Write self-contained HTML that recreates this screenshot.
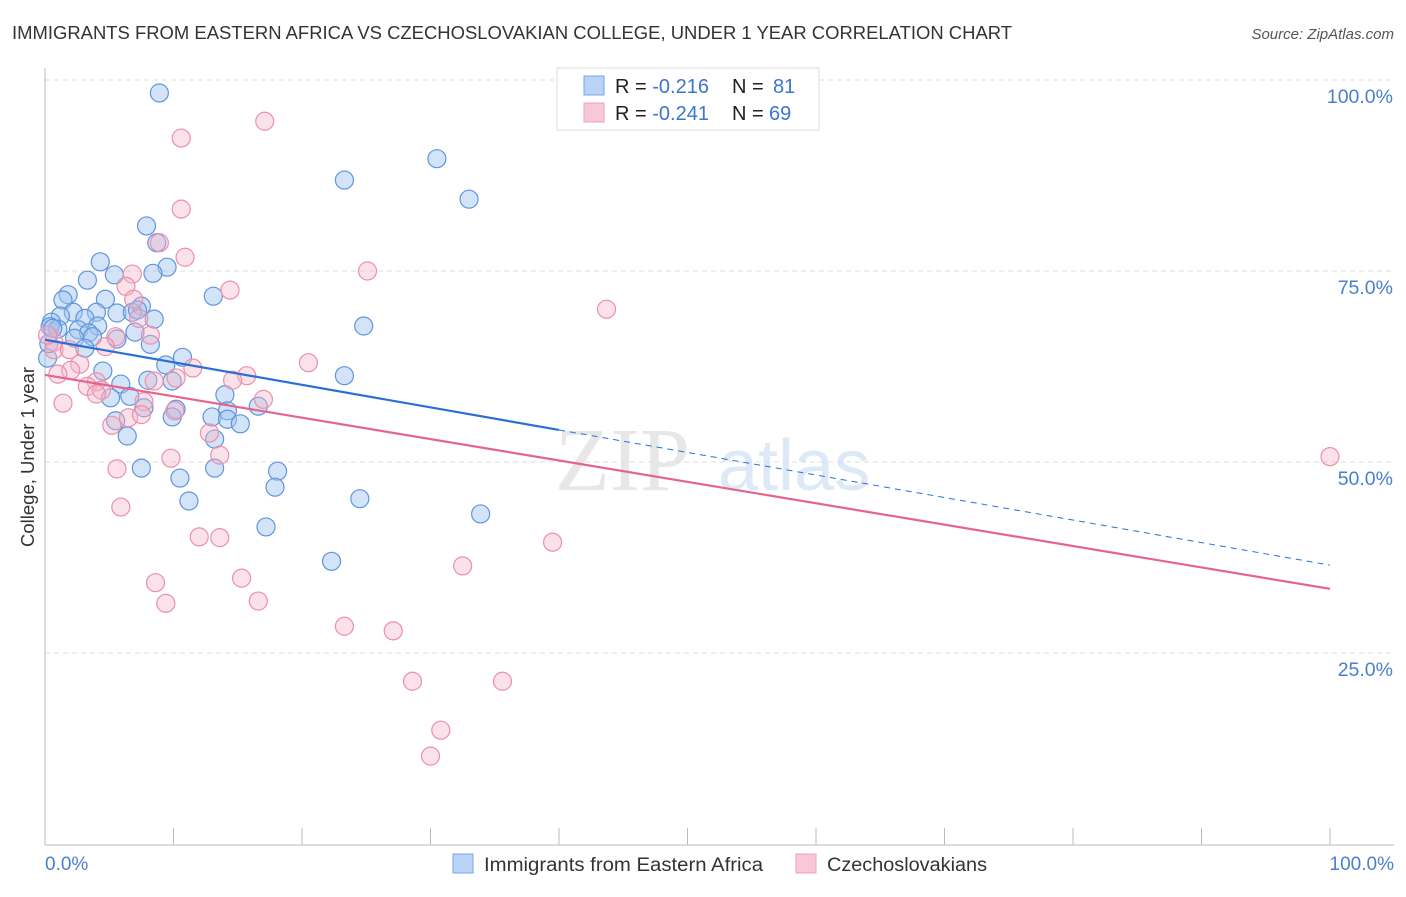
<!DOCTYPE html>
<html><head><meta charset="utf-8"><style>
body{margin:0;background:#fff;font-family:"Liberation Sans",sans-serif}
</style></head><body>
<svg width="1406" height="892" viewBox="0 0 1406 892" xmlns="http://www.w3.org/2000/svg">
<text x="12" y="39" font-size="18" fill="#333" textLength="1000" lengthAdjust="spacingAndGlyphs">IMMIGRANTS FROM EASTERN AFRICA VS CZECHOSLOVAKIAN COLLEGE, UNDER 1 YEAR CORRELATION CHART</text>
<text x="1394" y="39" font-size="15" fill="#555" font-style="italic" text-anchor="end">Source: ZipAtlas.com</text>
<g id="grid"></g>
<g><text x="555" y="490" font-size="90" fill="#e2e2e2" font-family="Liberation Serif" opacity="0.8">ZIP</text><text x="718" y="490" font-size="72" fill="#d0e0f3" opacity="0.7">atlas</text></g>
<line x1="45" y1="68" x2="45" y2="845" stroke="#bbb"/>
<line x1="45" y1="845" x2="1394" y2="845" stroke="#bbb"/>
<g id="ticks"></g>
<g id="pts"></g>
<g id="trends"></g>
<text x="34" y="457" font-size="18.5" fill="#333" text-anchor="middle" transform="rotate(-90 34 457)">College, Under 1 year</text>
<text x="45" y="870" font-size="19" fill="#4a7fd0">0.0%</text>
<text x="1394" y="870" font-size="19" fill="#4a7fd0" text-anchor="end">100.0%</text>
<g>
<rect x="557" y="68" width="262" height="62" fill="#fff" stroke="#ddd"/>
<rect x="584" y="76" width="20" height="19" fill="#b8d3f5" stroke="#7aa6e0"/>
<rect x="584" y="103" width="20" height="19" fill="#f9c8d6" stroke="#eca0b8"/>
<text x="615" y="93" font-size="20" fill="#222">R = <tspan fill="#3b75cc">-0.216</tspan><tspan x="732">N = </tspan><tspan fill="#3b75cc" x="773">81</tspan></text>
<text x="615" y="120" font-size="20" fill="#222">R = <tspan fill="#3b75cc">-0.241</tspan><tspan x="732">N = </tspan><tspan fill="#3b75cc" x="769">69</tspan></text>
</g>
<g>
<rect x="453" y="854" width="20" height="19" fill="#b8d3f5" stroke="#7aa6e0"/>
<text x="484" y="871" font-size="19" fill="#333" textLength="279" lengthAdjust="spacingAndGlyphs">Immigrants from Eastern Africa</text>
<rect x="796" y="854" width="20" height="19" fill="#f9c8d6" stroke="#eca0b8"/>
<text x="827" y="871" font-size="19" fill="#333" textLength="160" lengthAdjust="spacingAndGlyphs">Czechoslovakians</text>
</g>
</svg>
<script>
const yTicks=[25,50,75,100];
const yTickLabels=["25.0%","50.0%","75.0%","100.0%"];
const xTicks=[0,10,20,30,40,50,60,70,80,90,100];
const blueX=[8.9,30.5,23.3,33.0,7.9,8.7,4.3,9.5,8.4,5.4,3.3,13.1,1.8,1.4,4.7,7.5,2.2,4.0,5.6,6.8,7.2,8.5,3.1,1.2,0.5,0.4,1.0,4.1,2.6,3.4,7.0,24.8,2.3,3.7,5.6,8.2,3.1,0.2,10.7,9.4,4.5,23.3,8.0,5.9,9.9,14.0,6.6,5.1,16.6,7.7,10.2,14.2,13.0,9.9,14.2,15.2,5.5,6.4,13.2,7.5,13.2,18.1,10.5,17.9,24.5,11.2,33.9,17.2,22.3,0.3,0.6];
const blueY=[98.3,89.7,86.9,84.4,80.9,78.7,76.2,75.5,74.7,74.5,73.8,71.7,71.9,71.2,71.3,70.4,69.6,69.6,69.5,69.6,69.9,68.7,68.8,69.1,68.3,67.7,67.4,67.8,67.3,66.9,67.0,67.8,66.2,66.4,66.1,65.4,64.9,63.6,63.7,62.7,61.9,61.3,60.7,60.2,60.6,58.8,58.6,58.4,57.3,57.1,56.9,56.7,55.9,55.9,55.6,55.0,55.4,53.4,53.0,49.2,49.2,48.8,47.9,46.7,45.2,44.9,43.2,41.5,37.0,65.5,67.5];
const pinkX=[49.9,17.1,10.6,10.6,8.9,10.9,25.1,6.8,14.4,6.3,6.9,43.7,7.3,8.2,5.5,0.7,0.7,4.7,1.9,20.5,11.5,2.7,2.0,1.0,15.7,14.6,10.2,8.5,4.0,3.3,4.4,4.0,17.0,7.7,1.4,10.1,6.5,7.5,5.2,12.8,13.6,9.8,5.6,100,5.9,12.0,13.6,39.5,32.5,15.3,8.6,9.4,16.6,23.3,27.1,28.6,35.6,30.8,30.0,0.2];
const pinkY=[100,94.6,92.4,83.1,78.7,76.8,75.0,74.6,72.5,73.0,71.3,70.0,68.8,66.6,66.4,65.7,64.7,65.1,64.7,63.0,62.3,62.8,62.0,61.5,61.3,60.7,61.0,60.6,60.5,59.9,59.4,58.9,58.2,57.9,57.7,56.7,55.8,56.2,54.8,53.8,50.9,50.5,49.1,50.7,44.1,40.2,40.1,39.5,36.4,34.8,34.2,31.5,31.8,28.5,27.9,21.3,21.3,14.9,11.5,66.6];
const blueTrend=[66.0,36.5];
const pinkTrend=[61.4,33.4];
const NS="http://www.w3.org/2000/svg";
const X=v=>45+v*12.85, Y=v=>844-v*7.64;
function mk(tag,attrs,parent){const e=document.createElementNS(NS,tag);for(const k in attrs)e.setAttribute(k,attrs[k]);parent.appendChild(e);return e;}
const grid=document.getElementById('grid');
yTicks.forEach((t,i)=>{
 const l=mk('line',{x1:45,x2:1394,y1:Y(t),y2:Y(t),stroke:'#ddd','stroke-dasharray':'5,4'},grid);
 
 
 const tx=mk('text',{x:1393,y:Y(t)+23,'font-size':19.5,fill:'#4a7fd0','text-anchor':'end'},grid);
 tx.textContent=yTickLabels[i];
 
 
});
const ticks=document.getElementById('ticks');
xTicks.forEach(t=>{
 const l=mk('line',{x1:X(t),x2:X(t),y1:828,y2:845,stroke:'#bbb'},ticks);
 
 
});
const pts=document.getElementById('pts');
blueX.forEach((x,i)=>{
 const c=mk('circle',{cx:X(x),cy:Y(blueY[i]),r:9,fill:'rgba(160,195,240,0.45)',stroke:'#5f95dc','stroke-width':1.2},pts);
 
 
});
pinkX.forEach((x,i)=>{
 const c=mk('circle',{cx:X(x),cy:Y(pinkY[i]),r:9,fill:'rgba(245,180,200,0.4)',stroke:'#ec8fab','stroke-width':1.2},pts);
 
 
});
const tr=document.getElementById('trends');
const by=x=>blueTrend[0]+(blueTrend[1]-blueTrend[0])*x/100;
let l1=mk('line',{x1:X(0),y1:Y(by(0)),x2:X(40),y2:Y(by(40)),stroke:'#2a6fd6','stroke-width':2.2},tr);


let l2=mk('line',{x1:X(40),y1:Y(by(40)),x2:X(100),y2:Y(by(100)),stroke:'#2a6fd6','stroke-width':1,'stroke-dasharray':'6,5'},tr);


let l3=mk('line',{x1:X(0),y1:Y(pinkTrend[0]),x2:X(100),y2:Y(pinkTrend[1]),stroke:'#e5638f','stroke-width':2.2},tr);


</script>
</body></html>
